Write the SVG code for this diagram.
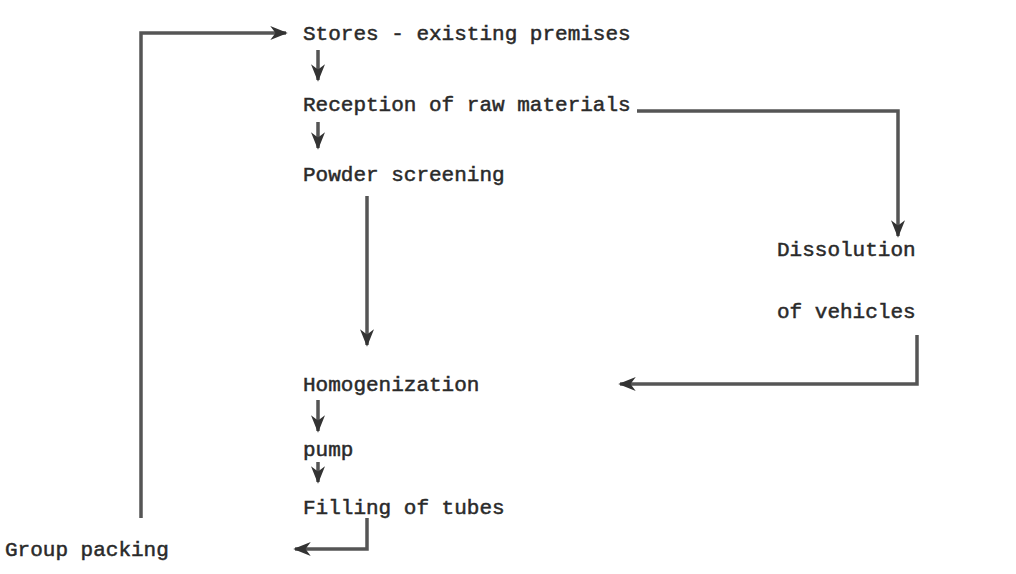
<svg xmlns="http://www.w3.org/2000/svg" width="1016" height="574" viewBox="0 0 1016 574">
  <defs>
    <marker id="head" viewBox="0 0 10 10" refX="9" refY="5" markerWidth="5" markerHeight="5" orient="auto-start-reverse" markerUnits="strokeWidth">
      <path d="M0,1 L10,5 L0,9 L3,5 Z" fill="#333"/>
    </marker>
  </defs>
  <style>
    .lbl { font-family: "Liberation Mono", "DejaVu Sans Mono", monospace; font-size: 21px; fill: #2a2a2a; stroke: #2a2a2a; stroke-width: 0.5; }
    .wire { fill: none; stroke: #555; stroke-width: 3.5; marker-end: url(#head); }
  </style>
  <rect width="1016" height="574" fill="#fff"/>

  <g id="connectors">
    <path class="wire" d="M141,518 L141,33 L286,33"/>
    <path class="wire" d="M318,50 L318,80"/>
    <path class="wire" d="M318,122 L318,148"/>
    <path class="wire" d="M637,111 L898,111 L898,236"/>
    <path class="wire" d="M367,196 L367,345"/>
    <path class="wire" d="M917,335 L917,384 L620,384"/>
    <path class="wire" d="M318,400 L318,431"/>
    <path class="wire" d="M318,462 L318,482"/>
    <path class="wire" d="M367,518 L367,549 L295,549"/>
  </g>

  <g id="stores"><text class="lbl" x="303" y="40">Stores - existing premises</text></g>
  <g id="reception"><text class="lbl" x="303" y="111">Reception of raw materials</text></g>
  <g id="screening"><text class="lbl" x="303" y="181">Powder screening</text></g>
  <g id="dissolution">
    <text class="lbl" x="777" y="256">Dissolution</text>
    <text class="lbl" x="777" y="318">of vehicles</text>
  </g>
  <g id="homogenization"><text class="lbl" x="303" y="391">Homogenization</text></g>
  <g id="pump"><text class="lbl" x="303" y="456">pump</text></g>
  <g id="filling"><text class="lbl" x="303" y="514">Filling of tubes</text></g>
  <g id="packing"><text class="lbl" x="5" y="556">Group packing</text></g>
</svg>
